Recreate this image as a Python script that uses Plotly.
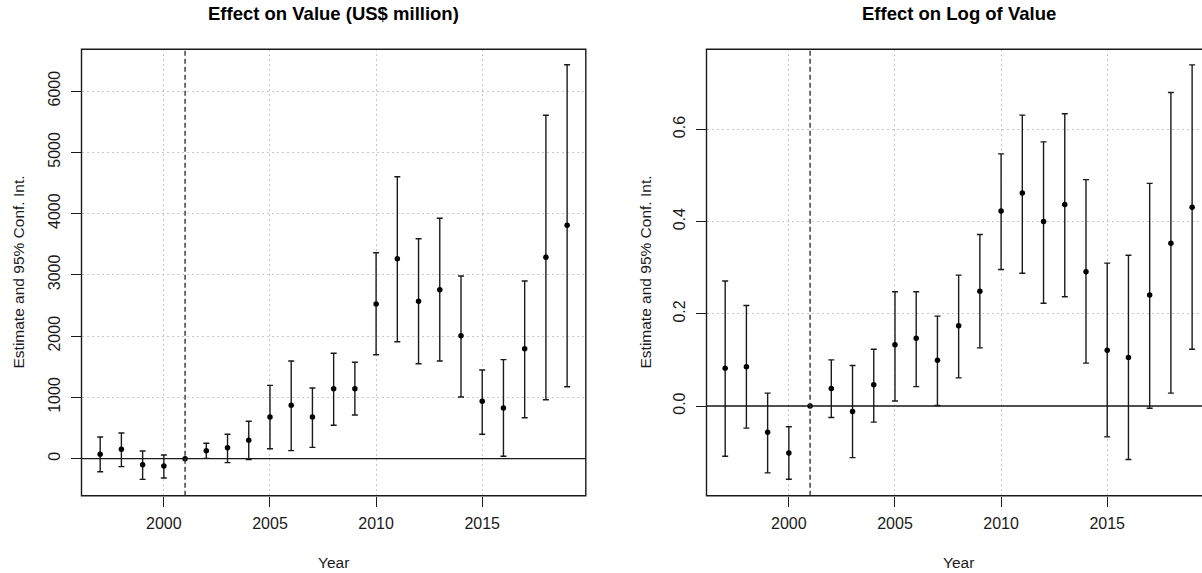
import plotly.graph_objects as go

# Event-study estimates with 95% confidence intervals (2001 is the reference year)
years = list(range(1997, 2020))

value_est = [72, 153, -98, -119, 0, 131, 180, 300, 680, 871, 680, 1143, 1143,
             2524, 3264, 2568, 2758, 2007, 937, 827, 1793, 3286, 3809]
value_lo = [-212, -130, -337, -315, None, 5, -65, -16, 163, 131, 185, 545, 713,
            1697, 1909, 1550, 1594, 1007, 398, 39, 669, 963, 1175]
value_hi = [354, 419, 126, 60, None, 251, 398, 610, 1197, 1594, 1154, 1720, 1573,
            3362, 4602, 3590, 3923, 2981, 1447, 1616, 2900, 5604, 6430]

log_est = [0.082, 0.085, -0.057, -0.102, 0.0, 0.038, -0.012, 0.046, 0.133, 0.147,
           0.099, 0.174, 0.249, 0.423, 0.462, 0.400, 0.437, 0.291, 0.121, 0.105,
           0.241, 0.353, 0.431]
log_lo = [-0.109, -0.048, -0.145, -0.159, None, -0.025, -0.112, -0.035, 0.011, 0.042,
          0.001, 0.061, 0.126, 0.296, 0.288, 0.223, 0.237, 0.093, -0.067, -0.116,
          -0.005, 0.028, 0.123]
log_hi = [0.271, 0.218, 0.028, -0.045, None, 0.100, 0.088, 0.123, 0.248, 0.248,
          0.195, 0.284, 0.372, 0.547, 0.631, 0.573, 0.634, 0.491, 0.310, 0.327,
          0.483, 0.680, 0.740]

value_ticks = [0, 1000, 2000, 3000, 4000, 5000, 6000]
log_ticks = [0.0, 0.2, 0.4, 0.6]
log_ticktext = ["0.0", "0.2", "0.4", "0.6"]
year_ticks = [2000, 2005, 2010, 2015]
treat_year = 2001

titles = ["Effect on Value (US$ million)", "Effect on Log of Value"]
ylab = "Estimate and 95% Conf. Int."
xlab = "Year"

W, H = 1202, 573
FONT = "Liberation Sans, Arial, sans-serif"
INK = "#1a1a1a"

# panel boxes in pixels: (left, right, top, bottom); the right frame runs past the page edge
left_box = (81.5, 585.8, 49.3, 495.7)
right_box = (706.5, 1211.0, 49.3, 495.7)
x_span = [1996.12, 2019.88]


def px(x):
    return x / W


def py(y):
    return 1 - y / H


fig = go.Figure()


def add_panel(est, lo, hi, xa, ya):
    cx, cy, cplus, cminus = [], [], [], []
    for yr, e, l, h in zip(years, est, lo, hi):
        if l is None or h is None:
            continue
        cx.append(yr)
        cy.append(e)
        cplus.append(h - e)
        cminus.append(e - l)
    fig.add_trace(go.Scatter(
        x=cx, y=cy, mode="markers", xaxis=xa, yaxis=ya,
        marker=dict(size=0.1, color=INK, opacity=0),
        error_y=dict(type="data", symmetric=False, array=cplus, arrayminus=cminus,
                     color=INK, thickness=1.4, width=3),
        showlegend=False, hoverinfo="skip"))
    fig.add_trace(go.Scatter(
        x=years, y=est, mode="markers", xaxis=xa, yaxis=ya,
        marker=dict(size=5.5, color="black"),
        showlegend=False))


add_panel(value_est, value_lo, value_hi, "x", "y")
add_panel(log_est, log_lo, log_hi, "x2", "y2")

axis_common = dict(
    showline=False, zeroline=False, ticks="outside", ticklen=10, tickwidth=1.2,
    tickcolor=INK, tickfont=dict(family=FONT, size=16, color=INK),
    showgrid=True, gridcolor="#c8c8c8", griddash="2px,3px", gridwidth=1,
)

# visible part of the right panel keeps the same year-to-pixel scale as the left one
px_per_year = (left_box[1] - left_box[0]) / (x_span[1] - x_span[0])
right_range = [x_span[0], x_span[0] + (W - right_box[0]) / px_per_year]

fig.update_layout(
    xaxis=dict(domain=[px(left_box[0]), px(left_box[1])], range=x_span,
               tickvals=year_ticks, anchor="y", ticklabelstandoff=3, **axis_common),
    yaxis=dict(domain=[py(left_box[3]), py(left_box[2])], range=[-604, 6681],
               tickvals=value_ticks, tickangle=-90, anchor="x", ticklabelstandoff=4,
               **axis_common),
    xaxis2=dict(domain=[px(right_box[0]), 1.0], range=right_range,
                tickvals=year_ticks, anchor="y2", ticklabelstandoff=3, **axis_common),
    yaxis2=dict(domain=[py(right_box[3]), py(right_box[2])], range=[-0.1946, 0.7738],
                tickvals=log_ticks, ticktext=log_ticktext, tickangle=-90, anchor="x2",
                ticklabelstandoff=4, **axis_common),
)

shapes = []
for xa, ya, box in (("x", "y", left_box), ("x2", "y2", right_box)):
    # zero reference line
    shapes.append(dict(type="line", xref=f"{xa} domain", yref=ya, x0=0, x1=1, y0=0, y1=0,
                       line=dict(color=INK, width=1.3)))
    # treatment year marker
    shapes.append(dict(type="line", xref=xa, yref=f"{ya} domain", x0=treat_year,
                       x1=treat_year, y0=0, y1=1,
                       line=dict(color="#333333", width=1.4, dash="5px,3px")))
    # panel frame
    shapes.append(dict(type="rect", xref="paper", yref="paper",
                       x0=px(box[0]), x1=px(box[1]), y0=py(box[3]), y1=py(box[2]),
                       line=dict(color=INK, width=1.4), fillcolor="rgba(0,0,0,0)"))

annotations = []
for title, box, ylab_x in ((titles[0], left_box, 18), (titles[1], right_box, 645)):
    cx = (box[0] + box[1]) / 2
    cy = (box[2] + box[3]) / 2
    annotations.append(dict(text=f"<b>{title}</b>", x=px(cx), y=py(14), xref="paper",
                            yref="paper", showarrow=False, xanchor="center",
                            yanchor="middle", font=dict(family=FONT, size=18.5, color="black")))
    annotations.append(dict(text=xlab, x=px(cx), y=py(562), xref="paper", yref="paper",
                            showarrow=False, xanchor="center", yanchor="middle",
                            font=dict(family=FONT, size=15.5, color=INK)))
    annotations.append(dict(text=ylab, x=px(ylab_x), y=py(cy), xref="paper", yref="paper",
                            showarrow=False, xanchor="center", yanchor="middle",
                            textangle=-90, font=dict(family=FONT, size=15.5, color=INK)))

fig.update_layout(
    width=W, height=H, margin=dict(l=0, r=0, t=0, b=0),
    paper_bgcolor="white", plot_bgcolor="white",
    shapes=shapes, annotations=annotations, showlegend=False,
)

fig.write_html("out.html")
